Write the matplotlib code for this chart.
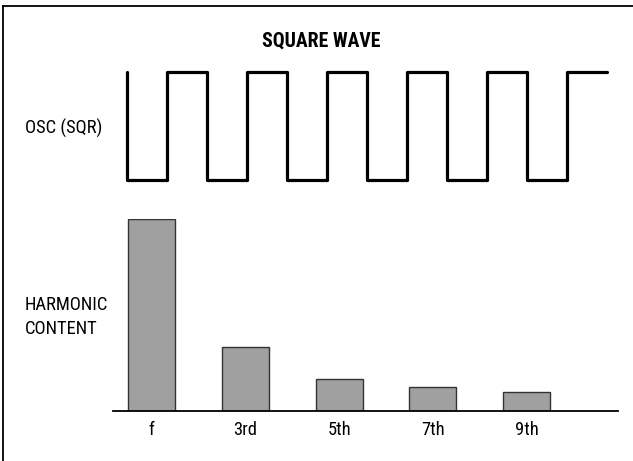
import matplotlib
matplotlib.use("Agg")
import matplotlib.pyplot as plt
from matplotlib import font_manager as fm
from matplotlib.lines import Line2D
import numpy as np

# -- Data --
# square wave level for each half period (0 = low, 1 = high)
wave_levels = [0, 1, 0, 1, 0, 1, 0, 1, 0, 1, 0, 1]
harmonics = ["f", "3rd", "5th", "7th", "9th"]
harmonic_amp = [100, 33.4, 16.7, 12.5, 9.9]


def find_narrow(bold):
    # look for any installed condensed / narrow sans face
    prefs = ["liberationsansnarrow", "robotocondensed", "opensanscondensed",
             "notosanscondensed", "dejavusanscondensed", "condensed", "narrow"]
    found = []
    for f in fm.fontManager.ttflist:
        fn = f.fname.replace("-", "").replace("_", "").lower()
        if "italic" in fn or "oblique" in fn or "serif" in fn and "sans" not in fn:
            continue
        is_bold = "bold" in fn and "semibold" not in fn and "extrabold" not in fn
        if is_bold != bold:
            continue
        for rank, p in enumerate(prefs):
            if p in fn:
                found.append((rank, f.fname))
                break
    if found:
        return fm.FontProperties(fname=sorted(found)[0][1])
    return fm.FontProperties(family="DejaVu Sans",
                             weight="bold" if bold else "normal")


reg = find_narrow(False)
bold = find_narrow(True)

W, H = 633, 461
fig = plt.figure(figsize=(W / 100, H / 100), dpi=100)
renderer = fig.canvas.get_renderer()


def px_axes(x0, y0, x1, y1):
    # axes box given in pixel coords (y measured from top)
    return fig.add_axes([x0 / W, 1 - y1 / H, (x1 - x0) / W, (y1 - y0) / H])


def fit_size(txt, fp, target_w):
    t = fig.text(0, 0, txt, fontproperties=fp, fontsize=14)
    w = t.get_window_extent(renderer).width
    t.remove()
    return 14 * target_w / w


# -- frame (top and left edges only) --
fig.add_artist(Line2D([3 / W, 1], [1 - 6 / H, 1 - 6 / H], color="black", lw=1.3))
fig.add_artist(Line2D([3 / W, 3 / W], [0, 1 - 6 / H], color="black", lw=1.3))

# -- square wave --
ax_w = px_axes(127, 72, 607, 180)
t = np.arange(len(wave_levels) + 1)
y = wave_levels + [wave_levels[-1]]
ax_w.plot(np.r_[0, t], np.r_[1, y], drawstyle="steps-post", color="black",
          lw=2.3, solid_joinstyle="round", solid_capstyle="round", clip_on=False)
ax_w.set_xlim(0, len(wave_levels))
ax_w.set_ylim(0, 1)
ax_w.axis("off")

# condensed face here is wider than the original, so allow a bit extra width
label_fs = fit_size("HARMONIC", reg, 72) * 1.17
title_fs = fit_size("SQUARE WAVE", bold, 108) * 1.1

# -- harmonic bars --
ax_b = px_axes(112.7, 219.3, 618, 411)
x = np.arange(len(harmonics))
ax_b.bar(x, harmonic_amp, width=0.5, color="#a0a0a0", edgecolor="#333333", lw=1.0)
ax_b.set_xlim(-0.41, 4.97)
ax_b.set_ylim(0, max(harmonic_amp))
for s in ["top", "left", "right"]:
    ax_b.spines[s].set_visible(False)
ax_b.spines["bottom"].set_linewidth(1.3)
ax_b.set_yticks([])
ax_b.set_xticks(x)
ax_b.set_xticklabels(harmonics, fontproperties=reg, fontsize=label_fs)
ax_b.tick_params(axis="x", length=0, pad=7)

# -- texts --
fig.text(321 / W, 1 - 41 / H, "SQUARE WAVE", ha="center", va="center",
         fontproperties=bold, fontsize=title_fs)
fig.text(25 / W, 1 - 128 / H, "OSC (SQR)", ha="left", va="center",
         fontproperties=reg, fontsize=label_fs)
fig.text(25 / W, 1 - 317 / H, "HARMONIC\nCONTENT", ha="left", va="center",
         fontproperties=reg, fontsize=label_fs, linespacing=1.5)

fig.savefig("out.png", dpi=100)
